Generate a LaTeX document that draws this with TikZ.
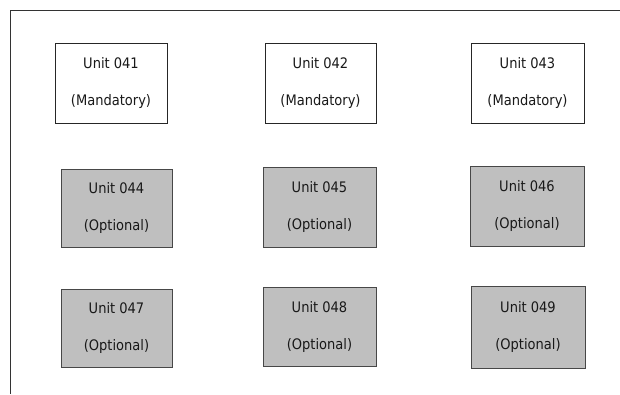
\documentclass[tikz,border=0pt]{standalone}
\usepackage{fontspec}
\setmainfont{DejaVu Sans Condensed}
\begin{document}
\begin{tikzpicture}[x=1pt,y=-1pt,
  unitbox/.style={draw=black!85, line width=0.9pt, inner sep=0pt, align=center,
    font=\fontsize{14.5}{17}\selectfont, text=black!90},
  mand/.style={unitbox, fill=white},
  opt/.style={unitbox, fill=black!25, draw=black!72, line width=1pt},
  frame/.style={draw=black!80, line width=0.9pt}]
\useasboundingbox (0,0) rectangle (620,394);
\coordinate (tl) at (10.5,10.5);
\coordinate (tr) at (620,10.5);
\coordinate (bl) at (10.5,394);
\draw[frame] (tr) -- (tl) -- (bl);
\newcommand{\mytxt}[2]{Unit #1\\[20pt](#2)}
\node[mand, minimum width=112, minimum height=80] (u41) at (111,83) {\mytxt{041}{Mandatory}};
\node[mand, minimum width=111, minimum height=80] (u42) at (320.5,83) {\mytxt{042}{Mandatory}};
\node[mand, minimum width=113, minimum height=80] (u43) at (527.5,83) {\mytxt{043}{Mandatory}};
\node[opt, minimum width=111, minimum height=78] (u44) at (116.5,208) {\mytxt{044}{Optional}};
\node[opt, minimum width=113, minimum height=80] (u45) at (319.5,207) {\mytxt{045}{Optional}};
\node[opt, minimum width=114, minimum height=80] (u46) at (527,206) {\mytxt{046}{Optional}};
\node[opt, minimum width=111, minimum height=78] (u47) at (116.5,328) {\mytxt{047}{Optional}};
\node[opt, minimum width=113, minimum height=79] (u48) at (319.5,326.5) {\mytxt{048}{Optional}};
\node[opt, minimum width=114, minimum height=82] (u49) at (528,327) {\mytxt{049}{Optional}};
\end{tikzpicture}
\end{document}
